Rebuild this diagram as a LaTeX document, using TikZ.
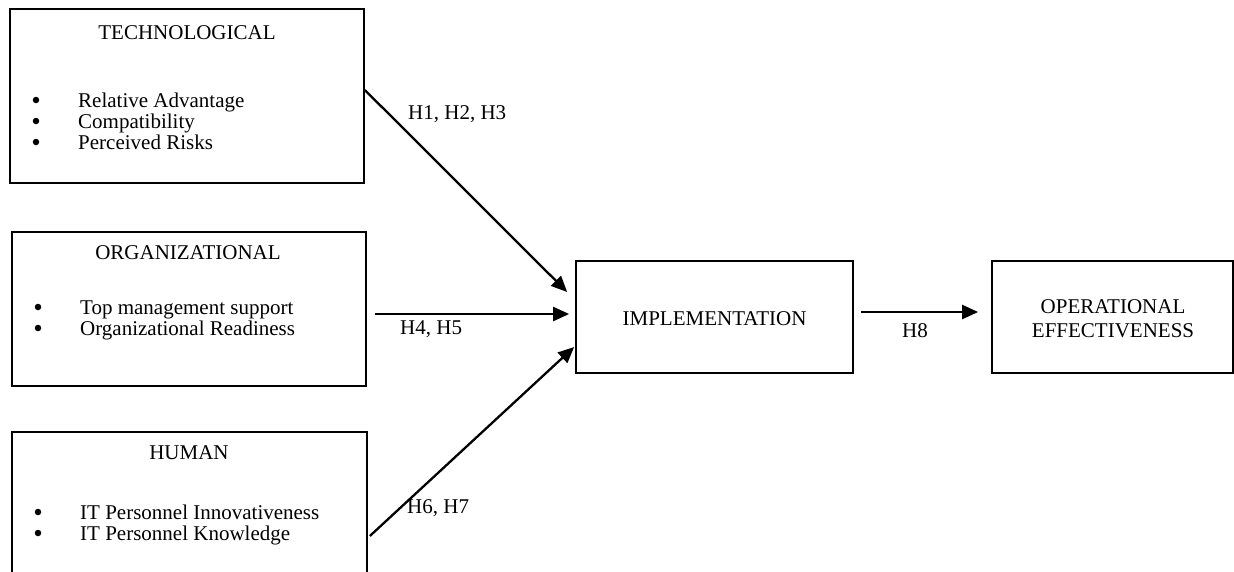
\documentclass[tikz,border=0pt]{standalone}
\usepackage{fontspec}
\setmainfont{Liberation Serif}
\usetikzlibrary{arrows.meta}
\begin{document}
\begin{tikzpicture}[x=1pt,y=-1pt,
  box/.style={draw,line width=1.7pt,rectangle,inner sep=0pt},
  txt/.style={anchor=base,inner sep=0pt,font=\fontsize{21}{24}\selectfont},
  ltxt/.style={anchor=base west,inner sep=0pt,font=\fontsize{21}{24}\selectfont},
  bul/.style={circle,fill,inner sep=0pt,minimum size=6.5pt},
  arr/.style={line width=2.3pt,-{Triangle[length=16pt,width=14pt]}}]
\clip (0,0) rectangle (1234,571);
\fill[white] (0,0) rectangle (1234,571);
% boxes
\node[box,minimum width=354pt,minimum height=174pt] (tech) at (187,96) {};
\node[box,minimum width=354pt,minimum height=154pt] (org) at (189,309) {};
\node[box,minimum width=355pt,minimum height=158pt] (hum) at (189.5,511) {};
\node[box,minimum width=277pt,minimum height=112pt] (impl) at (714.5,317) {};
\node[box,minimum width=241pt,minimum height=112pt] (oper) at (1112.5,317) {};
% technological
\node[txt] (techt) at (187,39) {TECHNOLOGICAL};
\node[bul] (tb1) at (36,100) {};
\node[bul] (tb2) at (36,121) {};
\node[bul] (tb3) at (36,142) {};
\node[ltxt] (ti1) at (78,107) {Relative Advantage};
\node[ltxt] (ti2) at (78,128) {Compatibility};
\node[ltxt] (ti3) at (78,149) {Perceived Risks};
% organizational
\node[txt] (orgt) at (188,259) {ORGANIZATIONAL};
\node[bul] (ob1) at (38,307) {};
\node[bul] (ob2) at (38,328) {};
\node[ltxt] (oi1) at (80,314) {Top management support};
\node[ltxt] (oi2) at (80,335) {Organizational Readiness};
% human
\node[txt] (humt) at (189,459) {HUMAN};
\node[bul] (hb1) at (38,512) {};
\node[bul] (hb2) at (38,533) {};
\node[ltxt] (hi1) at (80,519) {IT Personnel Innovativeness};
\node[ltxt] (hi2) at (80,540) {IT Personnel Knowledge};
% right boxes text
\node[txt] (implt) at (714.5,325) {IMPLEMENTATION};
\node[txt] (opert1) at (1113,313) {OPERATIONAL};
\node[txt] (opert2) at (1113,337) {EFFECTIVENESS};
% arrows
\draw[arr] ([yshift=6pt]tech.east) -- ([xshift=-8pt,yshift=25pt]impl.west);
\draw[arr] ([xshift=8pt,yshift=-5pt]org.east) -- ([xshift=-6pt,yshift=3pt]impl.west);
\draw[arr] ([xshift=2pt,yshift=-25pt]hum.east) -- ([xshift=-1pt,yshift=-30pt]impl.west);
\draw[arr] ([xshift=7pt,yshift=5pt]impl.east) -- ([xshift=-13pt,yshift=5pt]oper.west);
% labels
\node[ltxt] (l1) at (408,119) {H1, H2, H3};
\node[ltxt] (l2) at (400,334) {H4, H5};
\node[ltxt] (l3) at (407,513) {H6, H7};
\node[ltxt] (l4) at (902,337) {H8};
\end{tikzpicture}
\end{document}
